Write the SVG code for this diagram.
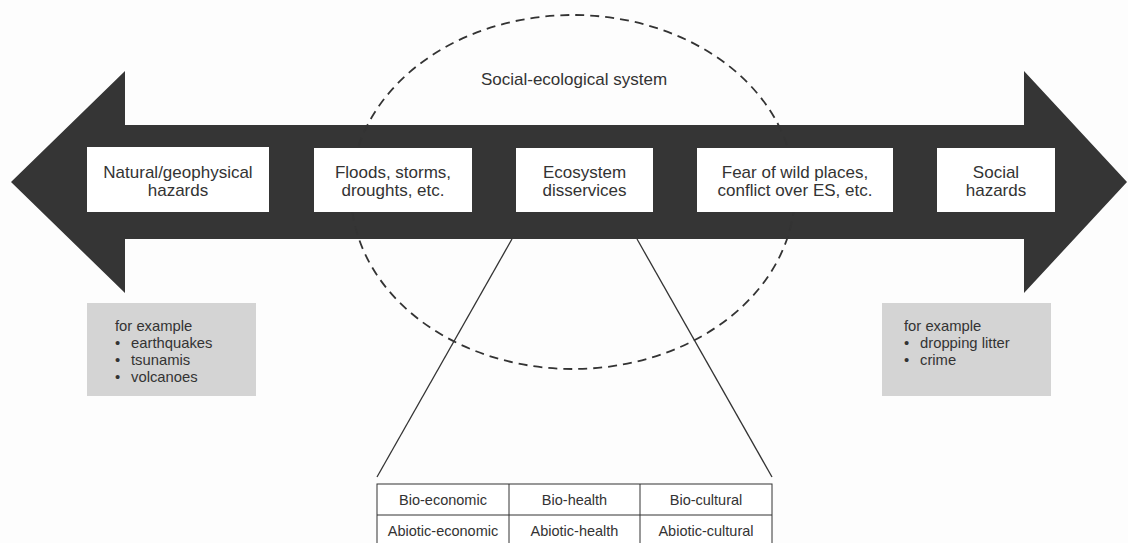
<svg xmlns="http://www.w3.org/2000/svg" width="1128" height="543" viewBox="0 0 1128 543">
<style>
text{font-family:"Liberation Sans",Arial,sans-serif;fill:#333}
.box{fill:#fff}
.lbl{font-size:17px;text-anchor:middle}
.ex{fill:#d4d4d4}
.small{font-size:14.8px}
.cell{font-size:14.5px;text-anchor:middle}
.ln{stroke:#333;stroke-width:1.3;fill:none}
</style>
<rect width="1128" height="543" fill="#fdfdfd"/>
<g id="arrow">
<polygon points="11,182 125,71 125,125 1024,125 1024,71 1127,182 1024,293 1024,239 125,239 125,293" fill="#353535"/>
</g>
<g id="ses">
<ellipse cx="573" cy="192" rx="222" ry="177" fill="none" stroke="#333" stroke-width="1.8" stroke-dasharray="9,6"/>
<text x="574" y="85" style="font-size:17px;text-anchor:middle">Social-ecological system</text>
</g>
<g id="natural">
<rect class="box" x="87" y="147" width="182" height="65"/>
<text class="lbl" x="178" y="178">Natural/geophysical</text>
<text class="lbl" x="178" y="196">hazards</text>
</g>
<g id="floods">
<rect class="box" x="314" y="148" width="158" height="64"/>
<text class="lbl" x="393" y="178">Floods, storms,</text>
<text class="lbl" x="393" y="196">droughts, etc.</text>
</g>
<g id="eds">
<rect class="box" x="516" y="148" width="137" height="64"/>
<text class="lbl" x="584.5" y="178">Ecosystem</text>
<text class="lbl" x="584.5" y="196">disservices</text>
</g>
<g id="fear">
<rect class="box" x="697" y="148" width="196" height="64"/>
<text class="lbl" x="795" y="178">Fear of wild places,</text>
<text class="lbl" x="795" y="196">conflict over ES, etc.</text>
</g>
<g id="social">
<rect class="box" x="937" y="148" width="118" height="64"/>
<text class="lbl" x="996" y="178">Social</text>
<text class="lbl" x="996" y="196">hazards</text>
</g>
<g id="ex-left">
<rect class="ex" x="87" y="303" width="169" height="93"/>
<text class="small" x="115" y="331">for example</text>
<text class="small" x="115" y="348">•</text><text class="small" x="131" y="348">earthquakes</text>
<text class="small" x="115" y="365">•</text><text class="small" x="131" y="365">tsunamis</text>
<text class="small" x="115" y="382">•</text><text class="small" x="131" y="382">volcanoes</text>
</g>
<g id="ex-right">
<rect class="ex" x="882" y="303" width="169" height="93"/>
<text class="small" x="904" y="331">for example</text>
<text class="small" x="904" y="348">•</text><text class="small" x="920" y="348">dropping litter</text>
<text class="small" x="904" y="365">•</text><text class="small" x="920" y="365">crime</text>
</g>
<g id="connectors">
<line class="ln" x1="512" y1="239" x2="377" y2="477"/>
<line class="ln" x1="637" y1="239" x2="772" y2="477"/>
</g>
<g id="table">
<rect x="377" y="484" width="395" height="70" fill="#fff" stroke="#333" stroke-width="1"/>
<line class="ln" x1="377" y1="515" x2="772" y2="515" style="stroke-width:1"/>
<line class="ln" x1="509" y1="484" x2="509" y2="543" style="stroke-width:1"/>
<line class="ln" x1="640" y1="484" x2="640" y2="543" style="stroke-width:1"/>
<text class="cell" x="443" y="505">Bio-economic</text>
<text class="cell" x="574.5" y="505">Bio-health</text>
<text class="cell" x="706" y="505">Bio-cultural</text>
<text class="cell" x="443" y="536">Abiotic-economic</text>
<text class="cell" x="574.5" y="536">Abiotic-health</text>
<text class="cell" x="706" y="536">Abiotic-cultural</text>
</g>
</svg>
